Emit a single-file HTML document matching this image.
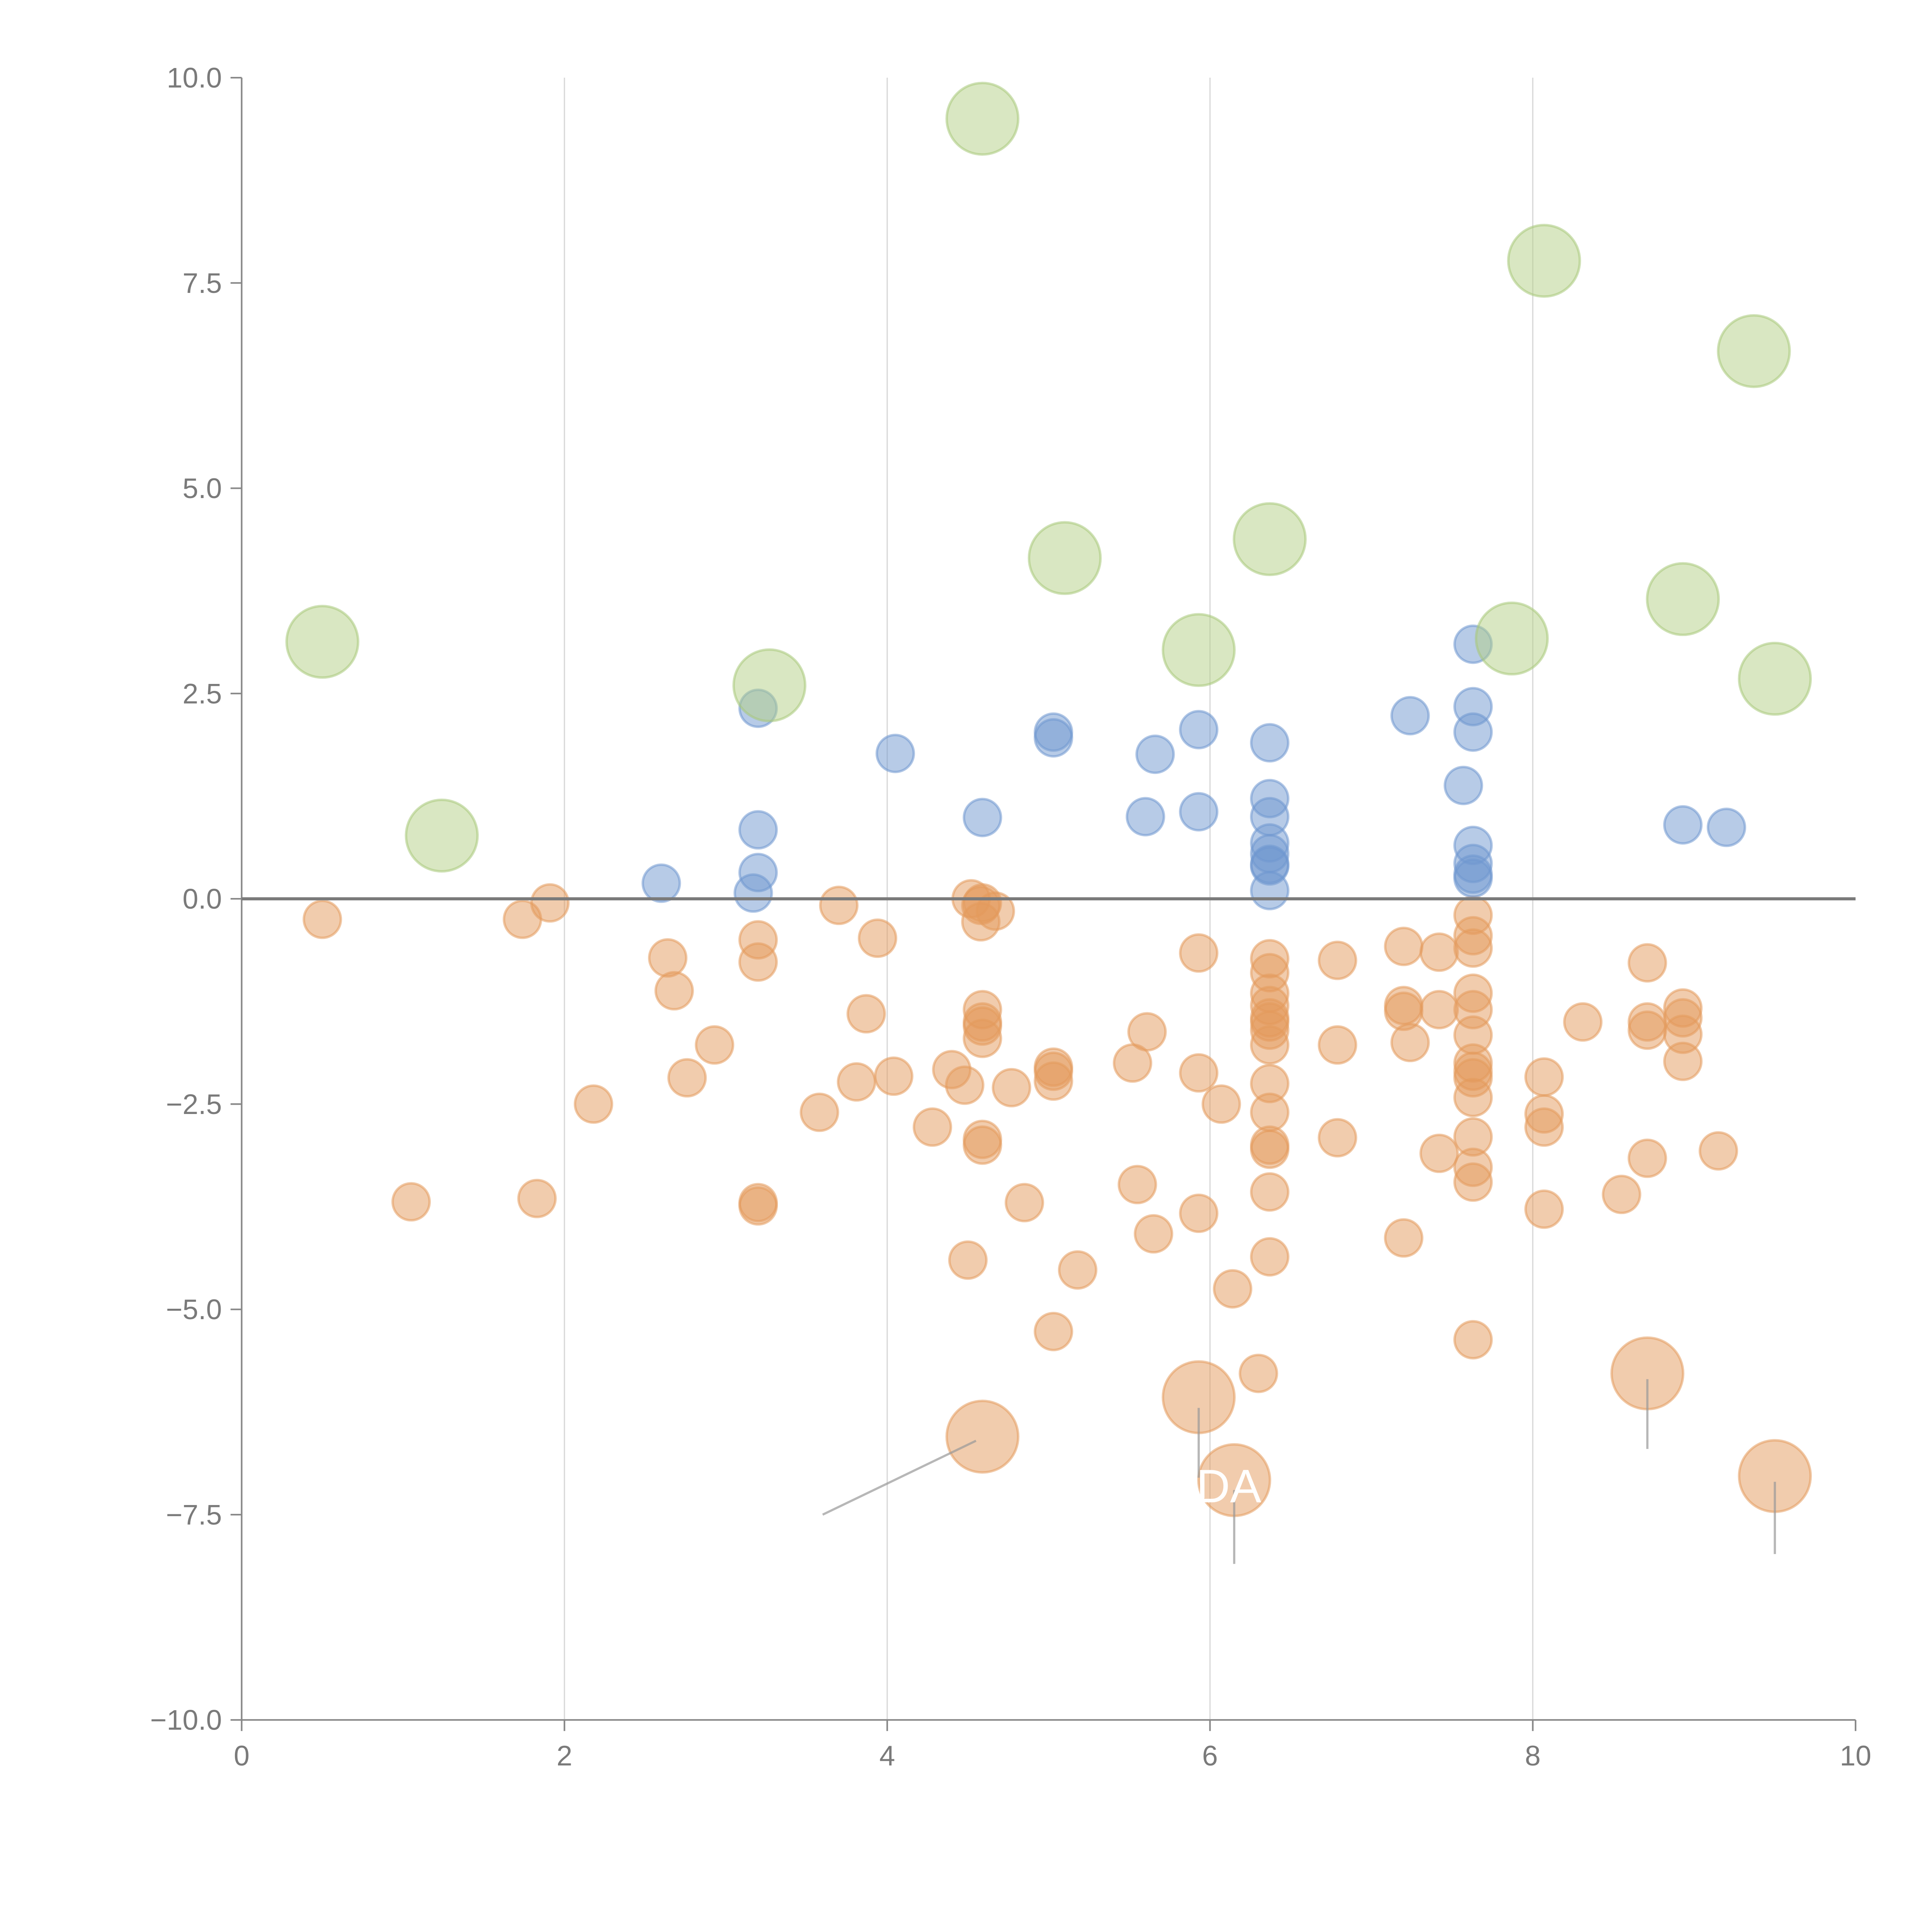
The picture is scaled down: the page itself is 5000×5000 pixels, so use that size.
<!DOCTYPE html>
<html><head><meta charset="utf-8"><style>html,body{margin:0;padding:0;background:#fff}svg{display:block}</style></head>
<body>
<svg id="chart" width="5000" height="5000" viewBox="0 0 1567 1567" xmlns="http://www.w3.org/2000/svg" font-family="Liberation Sans, sans-serif">
<g id="grid"></g>
<g id="marks"></g>
<g id="axes"></g>
</svg>
<script>
const xTicks=[0,2,4,6,8,10];
const yTicks=[10,7.5,5,2.5,0,-2.5,-5,-7.5,-10];
const yTickLabels=["10.0","7.5","5.0","2.5","0.0","\u22122.5","\u22125.0","\u22127.5","\u221210.0"];
const greenX=[0.5,1.24,3.27,4.59,5.1,5.93,6.37,7.87,8.07,8.93,9.37,9.5];
const greenY=[3.13,0.77,2.6,9.5,4.15,3.03,4.38,3.17,7.77,3.65,6.67,2.68];
const bigOrangeX=[4.59,5.93,6.15,8.71,9.5];
const bigOrangeY=[-6.55,-6.07,-7.08,-5.78,-7.03];
const blueX=[2.6,3.17,3.2,3.2,3.2,4.05,4.59,5.03,5.03,5.6,5.66,5.93,5.93,6.37,6.37,6.37,6.37,6.37,6.37,6.37,6.37,7.24,7.57,7.63,7.63,7.63,7.63,7.63,7.63,7.63,8.93,9.2];
const blueY=[0.19,0.07,0.32,0.84,2.32,1.77,0.99,2.03,1.96,1.0,1.76,2.06,1.06,1.9,1.22,1.0,0.68,0.55,0.42,0.4,0.1,2.23,1.38,3.1,2.34,2.03,0.65,0.43,0.3,0.25,0.9,0.87];
const orangeX=[0.5,1.05,1.74,1.83,1.91,2.18,2.64,2.68,2.76,2.93,3.2,3.2,3.2,3.2,3.58,3.7,3.81,3.87,3.94,4.04,4.28,4.4,4.48,4.5,4.52,4.58,4.58,4.59,4.67,4.59,4.59,4.59,4.59,4.59,4.59,4.77,4.85,5.03,5.03,5.03,5.03,5.18,5.52,5.55,5.61,5.65,5.93,5.93,5.93,6.07,6.14,6.3,6.37,6.37,6.37,6.37,6.37,6.37,6.37,6.37,6.37,6.37,6.37,6.37,6.37,6.37,6.79,6.79,6.79,7.2,7.2,7.2,7.24,7.2,7.42,7.42,7.42,7.63,7.63,7.63,7.63,7.63,7.63,7.63,7.63,7.63,7.63,7.63,7.63,7.63,7.63,8.07,8.07,8.07,8.07,8.31,8.55,8.71,8.71,8.71,8.71,8.93,8.93,8.93,8.93,9.15];
const orangeY=[-0.25,-3.69,-0.25,-3.65,-0.05,-2.5,-0.72,-1.12,-2.18,-1.78,-0.5,-0.77,-3.7,-3.74,-2.6,-0.08,-2.23,-1.4,-0.48,-2.16,-2.78,-2.08,-2.27,-4.4,0.0,-0.08,-0.28,-0.05,-0.15,-1.35,-1.5,-1.55,-1.7,-2.93,-3.0,-2.3,-3.7,-2.05,-2.1,-2.22,-5.27,-4.52,-2.0,-3.48,-1.62,-4.08,-0.66,-2.12,-3.83,-2.5,-4.75,-5.78,-0.73,-0.9,-1.15,-1.3,-1.45,-1.5,-1.6,-1.78,-2.25,-2.6,-3.0,-3.05,-3.57,-4.36,-0.75,-1.78,-2.91,-0.58,-1.3,-1.37,-1.75,-4.13,-0.65,-1.35,-3.1,-0.2,-0.45,-0.6,-1.15,-1.35,-1.66,-2.0,-2.1,-2.18,-2.42,-2.9,-3.27,-3.45,-5.37,-2.17,-2.62,-2.78,-3.78,-1.5,-3.6,-0.78,-1.5,-1.6,-3.16,-1.33,-1.45,-1.65,-1.98,-3.07];
const leaderX1=[4.55,5.93,6.15,8.71,9.5];
const leaderY1=[-6.6,-6.2,-7.2,-5.85,-7.1];
const leaderX2=[3.6,5.93,6.15,8.71,9.5];
const leaderY2=[-7.5,-7.05,-8.1,-6.7,-7.98];

const NS="http://www.w3.org/2000/svg";
const X0=196,X1=1505,Y0=63,Y1=1395;
function sx(v){return X0+(v-0)/(10-0)*(X1-X0);}
function sy(v){return Y0+(10-v)/20*(Y1-Y0);}
function mk(tag,attrs,parent){const e=document.createElementNS(NS,tag);for(const k in attrs)e.setAttribute(k,attrs[k]);parent.appendChild(e);return e;}
const grid=document.getElementById('grid'),marks=document.getElementById('marks'),axes=document.getElementById('axes');

xTicks.forEach(t=>{
  if(t>0&&t<10){const l=mk('line',{x1:sx(t),x2:sx(t),y1:Y0,y2:Y1,stroke:'#d8d8d8','stroke-width':1},grid);
  
  }
  const tk=mk('line',{x1:sx(t),x2:sx(t),y1:Y1,y2:Y1+9,stroke:'#888','stroke-width':1.3},axes);
  
  
  const tx=mk('text',{x:sx(t),y:Y1+37,'text-anchor':'middle','font-size':23,fill:'#7a7a7a'},axes);
  tx.textContent=String(t);
  
  
});
yTicks.forEach((t,i)=>{
  const tk=mk('line',{x1:X0-9,x2:X0,y1:sy(t),y2:sy(t),stroke:'#888','stroke-width':1.3},axes);
  
  
  const tx=mk('text',{x:X0-16,y:sy(t)+8,'text-anchor':'end','font-size':23,fill:'#7a7a7a'},axes);
  tx.textContent=yTickLabels[i];
  
  
});
let a=mk('line',{x1:X0,x2:X0,y1:Y0,y2:Y1,stroke:'#888','stroke-width':1.3},axes);


a=mk('line',{x1:X0,x2:X1,y1:Y1,y2:Y1,stroke:'#888','stroke-width':1.3},axes);


a=mk('line',{x1:X0,x2:X1,y1:sy(0),y2:sy(0),stroke:'#7a7a7a','stroke-width':2.5},axes);



function drawSeries(xs,ys,r,fill,stroke,name){
  xs.forEach((x,i)=>{
    const c=mk('circle',{cx:sx(x),cy:sy(ys[i]),r:r,fill:fill,'fill-opacity':0.5,stroke:stroke,'stroke-opacity':0.55,'stroke-width':2},marks);
    
    
  });
}
drawSeries(orangeX,orangeY,15,'#e39a5c','#e39a5c','orange-point');
drawSeries(blueX,blueY,15,'#7097cf','#7097cf','blue-point');
drawSeries(greenX,greenY,29,'#b3cf85','#a8c87a','green-bubble');
drawSeries(bigOrangeX,bigOrangeY,29,'#e39a5c','#e39a5c','orange-bubble');
leaderX1.forEach((x,i)=>{
  const l=mk('line',{x1:sx(x),y1:sy(leaderY1[i]),x2:sx(leaderX2[i]),y2:sy(leaderY2[i]),stroke:'#999','stroke-opacity':0.7,'stroke-width':1.8},marks);
  
  
});
const lbl=mk('text',{x:sx(5.93)-2,y:sy(-7.35),'font-size':38,fill:'#fff'},marks);
lbl.textContent='DA';


</script>
</body></html>
